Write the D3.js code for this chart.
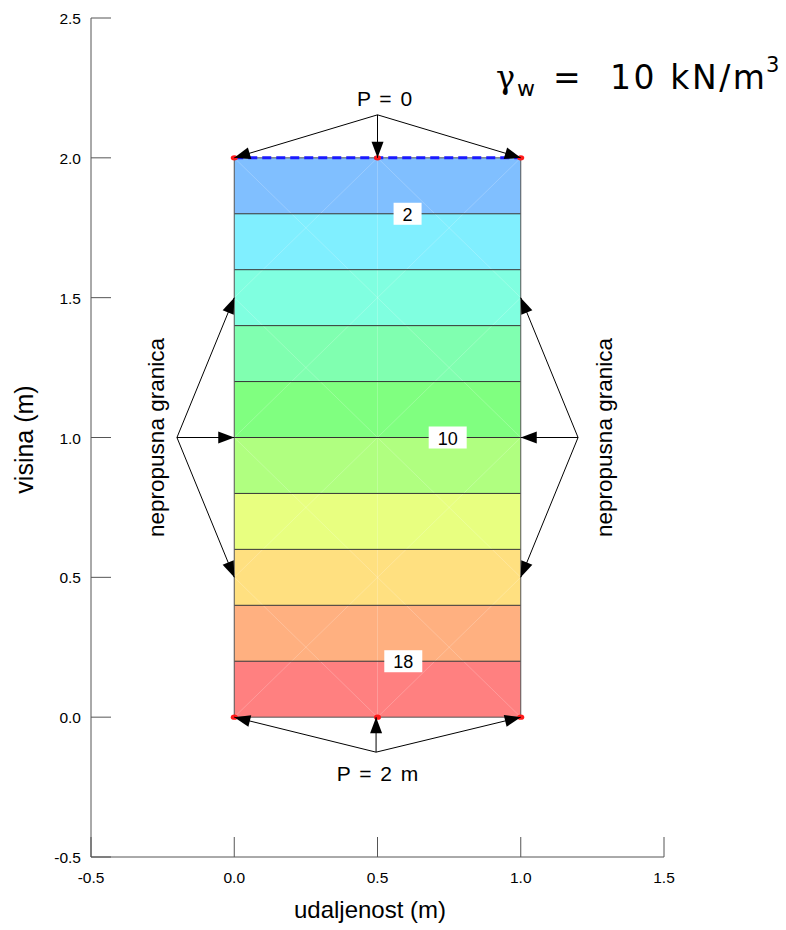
<!DOCTYPE html>
<html><head><meta charset="utf-8">
<script src="https://cdn.jsdelivr.net/npm/d3@7"></script>
<style>body{margin:0;background:#fff}svg{display:block;font-family:"Liberation Sans",Arial,sans-serif}</style>
</head><body><svg id="c" width="786" height="930"></svg>
<script>
// ---- data ----
const xTicks = [-0.5, 0.0, 0.5, 1.0, 1.5];
const yTicks = [-0.5, 0.0, 0.5, 1.0, 1.5, 2.0, 2.5];
const bandTops = [2.0, 1.8, 1.6, 1.4, 1.2, 1.0, 0.8, 0.6, 0.4, 0.2];
const bandColors = ["#80bfff","#80efff","#80ffe0","#80ffb0","#80ff80","#b0ff80","#e8ff80","#ffe080","#ffb080","#ff8080"];
const contourLevels = [1.8, 1.6, 1.4, 1.2, 1.0, 0.8, 0.6, 0.4, 0.2];
const contourLabels = [{t:"2", x:0.605, y:1.8},{t:"10", x:0.745, y:1.0},{t:"18", x:0.59, y:0.2}];
const nodesX = [0, 0.5, 1.0];
const nodesY = [0, 2.0];
const domainX = [0, 1.0], domainY = [0, 2.0];
const meshStep = 0.5;
const sideTargets = [1.5, 1.0, 0.5];

const svg = d3.select("#c");
const x = d3.scaleLinear().domain([-0.5, 1.5]).range([91, 664]);
const y = d3.scaleLinear().domain([-0.5, 2.5]).range([857, 18]);

// bands
svg.selectAll("rect.band").data(bandTops).join("rect")
  .attr("x", x(0)).attr("width", x(1) - x(0))
  .attr("y", d => y(d)).attr("height", d => y(d - 0.2) - y(d))
  .attr("fill", (d, i) => bandColors[i]);

// mesh (faint white)
const mesh = svg.append("g").attr("stroke", "rgba(255,255,255,0.3)").attr("stroke-width", 0.7);
for (let mx = domainX[0]; mx < domainX[1] - 1e-9; mx += meshStep) {
  for (let my = domainY[0]; my < domainY[1] - 1e-9; my += meshStep) {
    mesh.append("line").attr("x1", x(mx)).attr("y1", y(my)).attr("x2", x(mx + meshStep)).attr("y2", y(my + meshStep));
    mesh.append("line").attr("x1", x(mx + meshStep)).attr("y1", y(my)).attr("x2", x(mx)).attr("y2", y(my + meshStep));
  }
}
mesh.append("line").attr("x1", x(0.5)).attr("x2", x(0.5)).attr("y1", y(0)).attr("y2", y(2));

// contour lines
svg.selectAll("line.ct").data(contourLevels).join("line")
  .attr("x1", x(0)).attr("x2", x(1)).attr("y1", d => y(d)).attr("y2", d => y(d))
  .attr("stroke", "#333").attr("stroke-width", 1);

// outline
svg.append("rect").attr("x", x(0)).attr("y", y(2)).attr("width", x(1) - x(0)).attr("height", y(0) - y(2))
  .attr("fill", "none").attr("stroke", "#555").attr("stroke-width", 1);

// contour labels
contourLabels.forEach(l => {
  const w = l.t.length * 10 + 18;
  svg.append("rect").attr("x", x(l.x) - w / 2).attr("y", y(l.y) - 11).attr("width", w).attr("height", 22).attr("fill", "#fff");
  svg.append("text").attr("x", x(l.x)).attr("y", y(l.y) + 7).attr("text-anchor", "middle")
    .attr("font-size", 18).text(l.t);
});

// blue dashed top boundary
svg.append("line").attr("x1", x(0)).attr("x2", x(1)).attr("y1", y(2)).attr("y2", y(2))
  .attr("stroke", "#1a1aff").attr("stroke-width", 3).attr("stroke-dasharray", "9,5");

// nodes
nodesY.forEach(ny => nodesX.forEach(nx => {
  svg.append("ellipse").attr("cx", x(nx)).attr("cy", y(ny)).attr("rx", 3.5).attr("ry", 2.7).attr("fill", "#ff1a1a");
}));

// arrows
function arrow(x1, y1, x2, y2) {
  svg.append("line").attr("x1", x1).attr("y1", y1).attr("x2", x2).attr("y2", y2).attr("stroke", "#000").attr("stroke-width", 1);
  const a = Math.atan2(y2 - y1, x2 - x1), L = 16, W = 6;
  const bx = x2 - L * Math.cos(a), by = y2 - L * Math.sin(a);
  const px = -Math.sin(a) * W, py = Math.cos(a) * W;
  svg.append("path").attr("d", `M${x2},${y2}L${bx + px},${by + py}L${bx - px},${by - py}Z`).attr("fill", "#000");
}
const topSrc = [x(0.5), y(2.0) - 43];
nodesX.forEach(nx => arrow(topSrc[0], topSrc[1], x(nx), y(2)));
const botSrc = [x(0.495), y(0) + 35];
nodesX.forEach(nx => arrow(botSrc[0], botSrc[1], x(nx === 0.5 ? 0.495 : nx), y(0)));
const leftSrc = [x(-0.2), y(1.0)];
sideTargets.forEach(t => arrow(leftSrc[0], leftSrc[1], x(0), y(t)));
const rightSrc = [x(1.2), y(1.0)];
sideTargets.forEach(t => arrow(rightSrc[0], rightSrc[1], x(1), y(t)));

svg.append("text").attr("x", x(0.5) + 7).attr("y", 106).attr("text-anchor", "middle").attr("font-size", 21).attr("word-spacing", 3).text("P = 0");
svg.append("text").attr("x", x(0.5)).attr("y", 781).attr("text-anchor", "middle").attr("font-size", 21).attr("word-spacing", 3).text("P = 2 m");
svg.append("text").attr("transform", `translate(164,${y(1.0)}) rotate(-90)`).attr("text-anchor", "middle").attr("font-size", 22.5).text("nepropusna granica");
svg.append("text").attr("transform", `translate(612,${y(1.0)}) rotate(-90)`).attr("text-anchor", "middle").attr("font-size", 22.5).text("nepropusna granica");

// gamma
const gg = svg.append("g").attr("font-size", 33).attr("font-family", "DejaVu Sans");
gg.append("text").attr("x", 496).attr("y", 88).attr("font-family", "DejaVu Serif").attr("font-size", 32).text("γ");
gg.append("text").attr("x", 517).attr("y", 96).attr("font-size", 22).text("w");
gg.append("text").attr("x", 553).attr("y", 89).text("=");
gg.append("text").attr("x", 610).attr("y", 89).attr("textLength", 155).attr("lengthAdjust", "spacing").text("10 kN/m");
gg.append("text").attr("x", 766).attr("y", 72).attr("font-size", 21).text("3");

// axes
const ax = svg.append("g").attr("stroke", "#555");
ax.append("line").attr("x1", x(-0.5)).attr("x2", x(1.5)).attr("y1", y(-0.5)).attr("y2", y(-0.5));
ax.append("line").attr("x1", x(-0.5)).attr("x2", x(-0.5)).attr("y1", y(-0.5)).attr("y2", y(2.5));
xTicks.forEach(t => ax.append("line").attr("x1", x(t)).attr("x2", x(t)).attr("y1", y(-0.5)).attr("y2", y(-0.5) - 20));
yTicks.forEach(t => ax.append("line").attr("x1", x(-0.5)).attr("x2", x(-0.5) + 20).attr("y1", y(t)).attr("y2", y(t)));
svg.selectAll("text.xt").data(xTicks).join("text").attr("x", d => x(d)).attr("y", 883)
  .attr("text-anchor", "middle").attr("font-size", 15.5).text(d => d.toFixed(1));
svg.selectAll("text.yt").data(yTicks).join("text").attr("x", x(-0.5) - 10).attr("y", d => y(d) + 6)
  .attr("text-anchor", "end").attr("font-size", 15.5).text(d => d.toFixed(1));
svg.append("text").attr("x", 370).attr("y", 918).attr("text-anchor", "middle").attr("font-size", 24).text("udaljenost (m)");
svg.append("text").attr("transform", `translate(33,${y(1.0) + 2}) rotate(-90)`).attr("text-anchor", "middle").attr("font-size", 25).text("visina (m)");
</script></body></html>
